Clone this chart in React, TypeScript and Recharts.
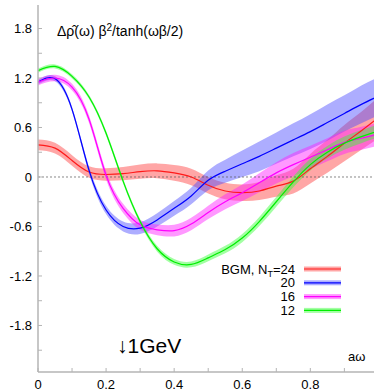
import React from "react";
import { ComposedChart, Area, Line, XAxis, YAxis, ReferenceLine } from "recharts";

// a*omega grid
const X = [0, 0.05, 0.1, 0.15, 0.2, 0.25, 0.3, 0.35, 0.4, 0.45, 0.5, 0.55, 0.6, 0.65, 0.7, 0.75, 0.8, 0.85, 0.9, 0.95, 1.0];

// BGM reconstructions for each N_T, central value and error half-width
const NT24 = [0.39, 0.35, 0.2, 0.06, 0.03, 0.04, 0.065, 0.075, 0.05, 0.0, -0.1, -0.17, -0.19, -0.17, -0.11, -0.05, 0.1, 0.25, 0.41, 0.56, 0.72];
const NT24_ERR = [0.065, 0.065, 0.065, 0.07, 0.075, 0.08, 0.085, 0.09, 0.095, 0.1, 0.1, 0.1, 0.1, 0.11, 0.13, 0.15, 0.18, 0.2, 0.22, 0.23, 0.25];
const NT20 = [1.15, 1.19, 0.82, 0.08, -0.4, -0.6, -0.62, -0.52, -0.38, -0.23, -0.04, 0.07, 0.16, 0.25, 0.35, 0.45, 0.55, 0.66, 0.77, 0.88, 0.98];
const NT20_ERR = [0.03, 0.03, 0.03, 0.04, 0.05, 0.06, 0.07, 0.08, 0.09, 0.1, 0.12, 0.14, 0.16, 0.18, 0.19, 0.2, 0.21, 0.22, 0.22, 0.23, 0.23];
const NT16 = [1.15, 1.2, 1.09, 0.7, 0.02, -0.38, -0.58, -0.64, -0.65, -0.57, -0.43, -0.3, -0.19, -0.07, 0.05, 0.15, 0.24, 0.33, 0.42, 0.47, 0.52];
const NT16_ERR = [0.04, 0.04, 0.04, 0.045, 0.05, 0.055, 0.06, 0.065, 0.07, 0.075, 0.08, 0.09, 0.1, 0.115, 0.13, 0.14, 0.14, 0.14, 0.14, 0.14, 0.14];
const NT12 = [1.29, 1.34, 1.22, 0.97, 0.53, -0.05, -0.54, -0.87, -1.03, -1.06, -0.98, -0.88, -0.74, -0.54, -0.3, -0.06, 0.15, 0.3, 0.41, 0.49, 0.56];
const NT12_ERR = [0.025, 0.025, 0.025, 0.025, 0.03, 0.03, 0.03, 0.035, 0.035, 0.035, 0.04, 0.045, 0.05, 0.055, 0.06, 0.065, 0.07, 0.075, 0.08, 0.08, 0.08];

const X_TICKS = [0, 0.1, 0.2, 0.3, 0.4, 0.5, 0.6, 0.7, 0.8, 0.9];
const X_LABELS = ["0", "", "0.2", "", "0.4", "", "0.6", "", "0.8", ""];
const Y_TICKS = [-2.1, -1.8, -1.5, -1.2, -0.9, -0.6, -0.3, 0, 0.3, 0.6, 0.9, 1.2, 1.5, 1.8];
const Y_LABELS = ["", "-1.8", "", "-1.2", "", "-0.6", "", "0", "", "0.6", "", "1.2", "", "1.8"];

const SERIES = [
  { key: "nt24", label: "BGM, N", sub: "T", tail: "=24", vals: NT24, err: NT24_ERR, line: "#ff1a1a", band: "#ff3a3a" },
  { key: "nt20", label: "20", vals: NT20, err: NT20_ERR, line: "#0000ff", band: "#4a4aff" },
  { key: "nt16", label: "16", vals: NT16, err: NT16_ERR, line: "#ff00ff", band: "#ff1aff" },
  { key: "nt12", label: "12", vals: NT12, err: NT12_ERR, line: "#00ee00", band: "#33ff33" },
];

const data = X.map((x, i) => {
  const row: Record<string, any> = { x };
  SERIES.forEach((s) => {
    row[s.key] = s.vals[i];
    row[s.key + "Band"] = [s.vals[i] - s.err[i], s.vals[i] + s.err[i]];
  });
  return row;
});

const W = 374;
const H = 391;
const FONT = "'Liberation Sans', Arial, sans-serif";
const AXIS = "#b4b4b4";
const TICK_LEN = 4;
const MARGIN = 8;

const BottomTick = (props: any) => {
  const { x, y, index } = props;
  const y0 = y - MARGIN;
  return (
    <g>
      <line x1={x} x2={x} y1={y0} y2={y0 - TICK_LEN} stroke={AXIS} />
      <text x={x} y={y0 + 17} textAnchor="middle" fontSize={13} fontFamily={FONT} fill="#000">
        {X_LABELS[index]}
      </text>
    </g>
  );
};

const TopTick = (props: any) => {
  const { x, y } = props;
  return <line x1={x} x2={x} y1={y} y2={y + TICK_LEN} stroke={AXIS} />;
};

const LeftTick = (props: any) => {
  const { x, y, index } = props;
  const x0 = x + MARGIN;
  return (
    <g>
      <line x1={x0} x2={x0 + TICK_LEN} y1={y} y2={y} stroke={AXIS} />
      <text x={x0 - 6} y={y} dy="0.35em" textAnchor="end" fontSize={13} fontFamily={FONT} fill="#000">
        {Y_LABELS[index]}
      </text>
    </g>
  );
};

const RightTick = (props: any) => {
  const { x, y } = props;
  return <line x1={x} x2={x - TICK_LEN} y1={y} y2={y} stroke={AXIS} />;
};

export default function App() {
  return (
    <div style={{ position: "absolute", left: 0, top: 0, width: W, height: H, background: "#fff" }}>
      <ComposedChart width={W} height={H} data={data} margin={{ top: 5, right: 0, left: 0, bottom: 0 }}>
        <XAxis
          dataKey="x"
          type="number"
          domain={[0, 0.987]}
          allowDataOverflow
          ticks={X_TICKS}
          interval={0}
          height={19}
          tickSize={0}
          tickMargin={MARGIN}
          tick={<BottomTick />}
          axisLine={{ stroke: AXIS, strokeWidth: 1.5 }}
        />
        <XAxis
          xAxisId="top"
          orientation="top"
          dataKey="x"
          type="number"
          domain={[0, 0.987]}
          allowDataOverflow
          ticks={X_TICKS}
          interval={0}
          height={0}
          tickSize={0}
          tickMargin={0}
          tick={<TopTick />}
          axisLine={{ stroke: AXIS, strokeWidth: 1.5 }}
        />
        <YAxis
          type="number"
          domain={[-2.364, 2.085]}
          allowDataOverflow
          ticks={Y_TICKS}
          interval={0}
          width={38}
          tickSize={0}
          tickMargin={MARGIN}
          tick={<LeftTick />}
          axisLine={{ stroke: AXIS, strokeWidth: 1.5 }}
        />
        <YAxis
          yAxisId="right"
          orientation="right"
          type="number"
          domain={[-2.364, 2.085]}
          allowDataOverflow
          ticks={Y_TICKS}
          interval={0}
          width={0}
          tickSize={0}
          tickMargin={0}
          tick={<RightTick />}
          axisLine={{ stroke: AXIS, strokeWidth: 1.5 }}
        />
        <ReferenceLine y={0} stroke="#555" strokeDasharray="2 2" strokeWidth={0.7} />
        {SERIES.flatMap((s) => [
          <Area
            key={s.key + "Band"}
            dataKey={s.key + "Band"}
            type="natural"
            stroke="none"
            fill={s.band}
            fillOpacity={0.45}
            isAnimationActive={false}
          />,
          <Line
            key={s.key}
            dataKey={s.key}
            type="natural"
            stroke={s.line}
            strokeWidth={1.2}
            dot={false}
            activeDot={false}
            isAnimationActive={false}
          />,
        ])}
      </ComposedChart>
      <svg
        width={W}
        height={H}
        style={{ position: "absolute", left: 0, top: 0, pointerEvents: "none" }}
      >
        <text x={57} y={36} fontSize={14} fontFamily={FONT} fill="#000">
          Δρ̂(ω) β<tspan dy={-5} fontSize={10}>2</tspan>
          <tspan dy={5}>/tanh(ωβ/2)</tspan>
        </text>
        <text x={117} y={353} fontSize={21} fontFamily={FONT} fill="#000">
          ↓1GeV
        </text>
        <text x={348} y={361} fontSize={13} fontFamily={FONT} fill="#000">
          aω
        </text>
        <g transform="translate(210, 269)">
          {SERIES.map((s, i) => {
            const y = i * 13.8;
            return (
              <g key={s.key}>
                <text x={85} y={y} dy="0.35em" textAnchor="end" fontSize={13} fontFamily={FONT} fill="#000">
                  {s.label}
                  {s.sub ? (
                    <tspan fontSize={9} dy={3}>
                      {s.sub}
                    </tspan>
                  ) : null}
                  {s.tail ? <tspan dy={-3}>{s.tail}</tspan> : null}
                </text>
                <rect x={94} y={y - 2.5} width={37} height={5} fill={s.band} fillOpacity={0.45} />
                <line x1={94} x2={131} y1={y} y2={y} stroke={s.line} strokeWidth={1.2} />
              </g>
            );
          })}
        </g>
      </svg>
    </div>
  );
}
